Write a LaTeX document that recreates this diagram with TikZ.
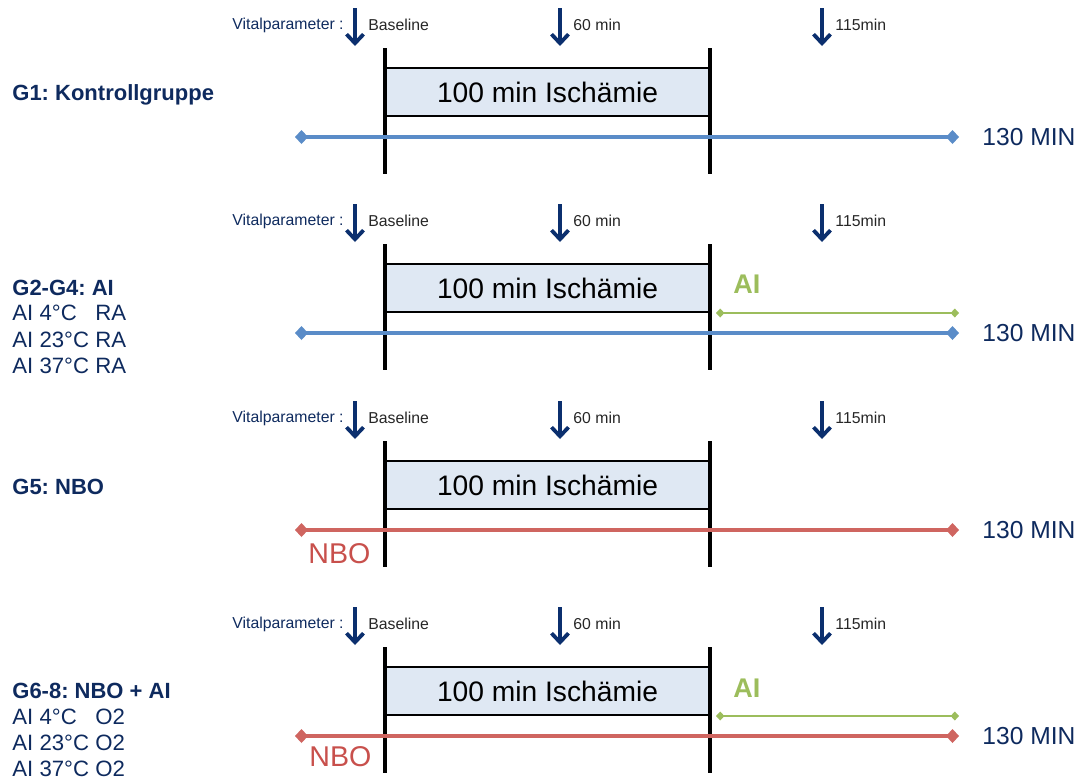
\documentclass[tikz,border=0pt]{standalone}
\usepackage{fontspec}
\setmainfont{Liberation Sans}
\usetikzlibrary{arrows.meta}
\definecolor{navy}{HTML}{0E2A5E}
\definecolor{arrblue}{HTML}{0B2F6E}
\definecolor{lineblue}{HTML}{5A8CC8}
\definecolor{linered}{HTML}{CF6560}
\definecolor{linegreen}{HTML}{9CBD5C}
\definecolor{boxfill}{HTML}{DFE8F3}
\definecolor{nbored}{HTML}{C8504C}
\frenchspacing
\begin{document}
\begin{tikzpicture}[x=0.5pt,y=-0.5pt,
  vpar/.style={font=\fontsize{7.9}{9}\selectfont, text=navy, inner sep=0pt},
  tlabel/.style={font=\fontsize{7.9}{9}\selectfont, text=black!85, inner sep=0pt, anchor=west},
  downarr/.style={draw=arrblue, line width=1.9pt, -{Straight Barb[length=4.5pt,width=8.5pt,line width=1.9pt]}},
  ibox/.style={draw=black, line width=0.7pt, fill=boxfill, minimum width=162.5pt, minimum height=24pt, inner sep=0pt, font=\fontsize{14.1}{16}\selectfont},
  vbar/.style={draw=black, line width=1.9pt},
  grp/.style={font=\bfseries\fontsize{11}{13}\selectfont, text=navy, anchor=west, inner sep=0pt},
  sub/.style={font=\fontsize{11.1}{13}\selectfont, text=navy, anchor=west, inner sep=0pt},
  minlab/.style={font=\fontsize{12.3}{14}\selectfont, text=navy, anchor=west, inner sep=0pt},
  ailab/.style={font=\bfseries\fontsize{13.5}{15}\selectfont, text=linegreen, anchor=west, inner sep=0pt},
  nbolab/.style={font=\fontsize{14.3}{16}\selectfont, text=nbored, anchor=west, inner sep=0pt},
  bline/.style={draw=lineblue, line width=2.4pt, {Diamond[length=6.5pt,width=7pt]}-{Diamond[length=6.5pt,width=7pt]}},
  rline/.style={draw=linered, line width=2.4pt, {Diamond[length=6.5pt,width=7pt]}-{Diamond[length=6.5pt,width=7pt]}},
  gline/.style={draw=linegreen, line width=1.4pt, {Diamond[length=4.2pt,width=4.5pt]}-{Diamond[length=4.2pt,width=4.5pt]}},
]
\useasboundingbox (0,0) rectangle (1081,782);
\foreach \r/\dy in {1/0,2/196,3/393,4/599}{
  % arrows and timepoint labels
  \coordinate (a1s\r) at (355,8+\dy);  \coordinate (a1e\r) at (355,46+\dy);
  \coordinate (a2s\r) at (560,8+\dy);  \coordinate (a2e\r) at (560,46+\dy);
  \coordinate (a3s\r) at (822,8+\dy);  \coordinate (a3e\r) at (822,46+\dy);
  \draw[downarr] (a1s\r) -- (a1e\r);
  \draw[downarr] (a2s\r) -- (a2e\r);
  \draw[downarr] (a3s\r) -- (a3e\r);
  \node[vpar, anchor=east] (vp\r) at (344,25+\dy) {Vitalparameter :};
  \node[tlabel] (bl\r) at (368,25+\dy) {Baseline};
  \node[tlabel] (m60\r) at (573,25+\dy) {60 min};
  \node[tlabel] (m115\r) at (835,25+\dy) {115min};
  % ischemia box
  \node[ibox] (box\r) at (547.5,92+\dy) {100 min Ischämie};
  % vertical bars
  \coordinate (v1t\r) at (385,48+\dy); \coordinate (v1b\r) at (385,174+\dy);
  \coordinate (v2t\r) at (710,48+\dy); \coordinate (v2b\r) at (710,174+\dy);
  \draw[vbar] (v1t\r) -- (v1b\r);
  \draw[vbar] (v2t\r) -- (v2b\r);
  % main timeline end points
  \coordinate (L\r) at (295,137+\dy);
  \coordinate (R\r) at (959,137+\dy);
  \node[minlab] (min\r) at (982,137+\dy) {130 MIN};
}
% timelines
\draw[bline] (L1) -- (R1);
\draw[bline] (L2) -- (R2);
\draw[rline] (L3) -- (R3);
\draw[rline] (L4) -- (R4);
% AI lines
\coordinate (gL2) at (716,313); \coordinate (gR2) at (959,313);
\coordinate (gL4) at (716,716); \coordinate (gR4) at (959,716);
\draw[gline] (gL2) -- (gR2);
\draw[gline] (gL4) -- (gR4);
\node[ailab] (ai2) at (733,284) {AI};
\node[ailab] (ai4) at (733,688) {AI};
\node[nbolab] (nbo3) at (308,554) {NBO};
\node[nbolab] (nbo4) at (309,757) {NBO};
% group labels
\node[grp] (g1) at (12,95) {G1: Kontrollgruppe};
\node[grp] (g2) at (12,288) {G2-G4: AI};
\node[sub] (g2a) at (12,313) {AI 4°C\phantom{2} RA};
\node[sub] (g2b) at (12,340) {AI 23°C RA};
\node[sub] (g2c) at (12,366) {AI 37°C RA};
\node[grp] (g5) at (12,487) {G5: NBO};
\node[grp] (g6) at (12,691) {G6-8: NBO + AI};
\node[sub] (g6a) at (12,717) {AI 4°C\phantom{2} O2};
\node[sub] (g6b) at (12,743) {AI 23°C O2};
\node[sub] (g6c) at (12,769) {AI 37°C O2};
\end{tikzpicture}
\end{document}
